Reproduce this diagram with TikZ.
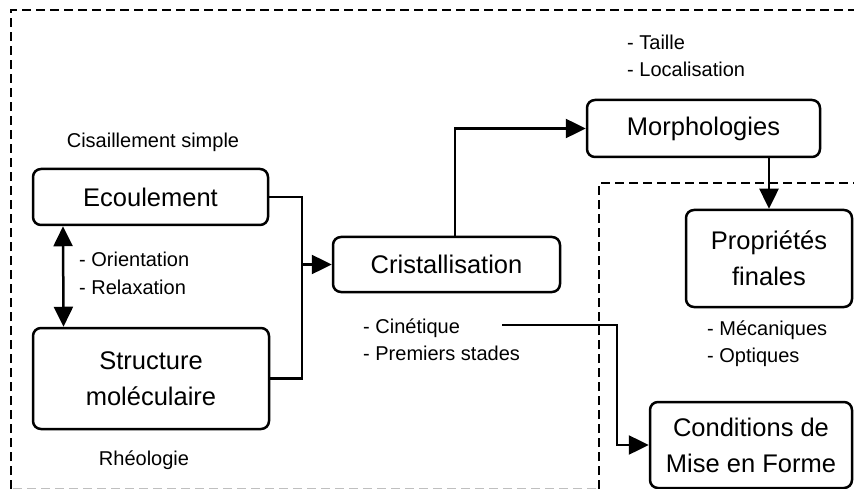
\documentclass[tikz,border=0pt]{standalone}
\usepackage{fontspec}
\setmainfont{Liberation Sans}
\usepackage{tikz}
\usetikzlibrary{arrows.meta}
\tikzstyle{stage} = [rectangle, rounded corners=8pt, draw, line width=2.5pt, align=center, inner sep=0pt, font=\fontsize{25.5}{36}\selectfont]
\tikzstyle{note} = [anchor=west, align=left, inner sep=0pt, font=\fontsize{20}{27.5}\selectfont]
\tikzstyle{arrow} = [line width=2.5pt,-{Triangle[length=20pt,width=19pt]}]
\tikzstyle{both} = [line width=2.5pt,{Triangle[length=20pt,width=19pt]}-{Triangle[length=20pt,width=19pt]}]
\tikzstyle{link} = [line width=2.5pt]
\tikzstyle{frame} = [line width=2.5pt, dash pattern=on 9pt off 5pt]

\begin{document}
\begin{tikzpicture}[x=1pt,y=-1pt]
            \useasboundingbox (0,0) rectangle (854,489);
            \draw [frame] (11,489) -- (11,10) -- (854,10);
            \draw [frame] (599,489) -- (599,183) -- (854,183);
            \draw [gray!50, line width=1pt, dash pattern=on 9pt off 5pt] (13,488) -- (597,488);
            \node [stage, minimum width=235pt, minimum height=56pt] at (150.5,197) (ecoul) {Ecoulement};
            \node [stage, minimum width=236pt, minimum height=101pt] at (151,378.5) (struct) {Structure\\mol\'eculaire};
            \node [stage, minimum width=227pt, minimum height=55pt] at (446.5,264.5) (cris) {Cristallisation};
            \node [stage, minimum width=233pt, minimum height=57pt] at (703.5,128.5) (morph) {Morphologies};
            \node [stage, minimum width=166pt, minimum height=97pt] at (769,258.5) (prop) {Propri\'et\'es\\finales};
            \node [stage, minimum width=202pt, minimum height=86pt] at (751,445) (cond) {Conditions de\\Mise en Forme};
            \node [anchor=center, inner sep=0pt, font=\fontsize{20}{24}\selectfont] at (153,142) (cis) {Cisaillement simple};
            \node [anchor=center, inner sep=0pt, font=\fontsize{20}{24}\selectfont] at (144,460) (rheo) {Rh\'eologie};
            \node [note] at (79,273.5) (orient) {- Orientation\\- Relaxation};
            \node [note] at (363,339.5) (cin) {- Cin\'etique\\- Premiers stades};
            \node [note] at (627,56) (taille) {- Taille\\- Localisation};
            \node [note] at (707,343.5) (meca) {- M\'ecaniques\\- Optiques};
            \coordinate (join) at (302,264.5);
            \coordinate (kin) at (502,325);
            \coordinate (bend) at (617,325);
            \draw [link] (ecoul.east) -| (join) |- (struct.east);
            \draw [arrow] (join) -- (cris.west);
            \draw [arrow] ([xshift=8.5pt]cris.north) |- (morph.west);
            \draw [arrow] (morph.south -| prop.north) -- (prop.north);
            \draw [arrow] (kin) -- (bend) |- (cond.west);
            \draw [both] ([xshift=-87.5pt]ecoul.south) -- ([xshift=-87.5pt]struct.north);
            \end{tikzpicture}
\end{document}
